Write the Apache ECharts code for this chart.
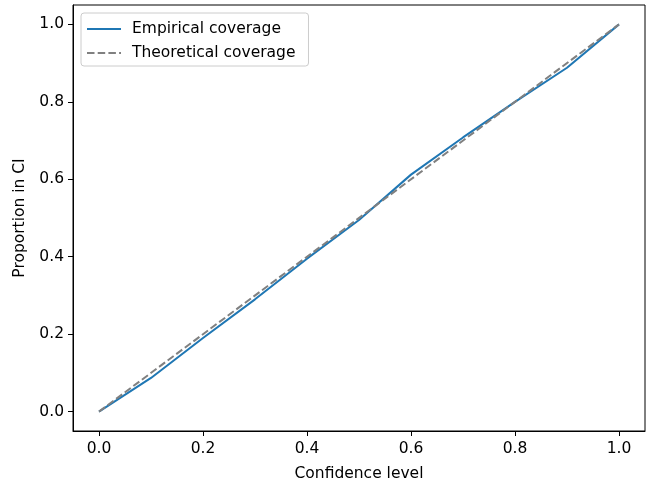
<!DOCTYPE html>
<html>
<head>
<meta charset="utf-8">
<script src="https://cdn.jsdelivr.net/npm/echarts@6/dist/echarts.min.js"></script>
<style>
html,body{margin:0;padding:0;background:#fff;}
#chart{width:662px;height:487px;}
</style>
</head>
<body>
<div id="chart"></div>
<script>
const confidenceLevels = [0, 0.1, 0.2, 0.3, 0.4, 0.5, 0.6, 0.7, 0.8, 0.9, 1.0];
const empiricalCoverage = [0, 0.087, 0.19, 0.29, 0.395, 0.495, 0.612, 0.708, 0.8, 0.888, 1.0];
const theoreticalX = [0, 1];
const theoreticalY = [0, 1];
const tickValues = [0, 0.2, 0.4, 0.6, 0.8, 1.0];
const seriesNames = ['Empirical coverage', 'Theoretical coverage'];

const chart = echarts.init(document.getElementById('chart'), null, {renderer: 'canvas'});
const font = 'DejaVu Sans';
const fs = 15.5;
function axis(name, nameGap, margin) {
  return {
    type: 'value',
    min: -0.05,
    max: 1.05,
    name: name,
    nameGap: nameGap,
    nameLocation: 'middle',
    nameTextStyle: {color: '#000', fontFamily: font, fontSize: fs},
    axisLine: {show: true, onZero: false, lineStyle: {color: '#000', width: 1}},
    axisTick: {show: true, inside: false, length: 5, customValues: tickValues, lineStyle: {color: '#000', width: 1}},
    axisLabel: {show: true, margin: margin, customValues: tickValues, color: '#000', fontFamily: font, fontSize: fs,
      formatter: v => v.toFixed(1)},
    splitLine: {show: false}
  };
}
chart.setOption({
  animation: false,
  backgroundColor: '#fff',
  grid: {left: 73, right: 17, top: 5, bottom: 56, show: true, borderColor: '#000', borderWidth: 1, containLabel: false},
  xAxis: axis('Confidence level', 35, 10),
  yAxis: axis('Proportion in CI', 45, 9),
  legend: {
    left: 81, top: 13, orient: 'vertical',
    itemWidth: 34, itemHeight: 14, itemGap: 8,
    padding: [8, 13, 5, 5],
    borderColor: '#cccccc', borderWidth: 1, borderRadius: 3,
    backgroundColor: 'rgba(255,255,255,0.8)',
    itemStyle: {opacity: 0},
    textStyle: {color: '#000', fontFamily: font, fontSize: fs, padding: [0, 0, 0, 6]},
    data: seriesNames
  },
  series: [
    {
      name: seriesNames[0], type: 'line', showSymbol: false, symbol: 'none',
      data: confidenceLevels.map((x, i) => [x, empiricalCoverage[i]]),
      lineStyle: {color: '#1f77b4', width: 2},
      itemStyle: {color: '#1f77b4'}
    },
    {
      name: seriesNames[1], type: 'line', showSymbol: false, symbol: 'none',
      data: theoreticalX.map((x, i) => [x, theoreticalY[i]]),
      lineStyle: {color: '#808080', width: 2, type: [7.5, 3.2]},
      itemStyle: {color: '#808080'}
    }
  ]
});
</script>
</body>
</html>
